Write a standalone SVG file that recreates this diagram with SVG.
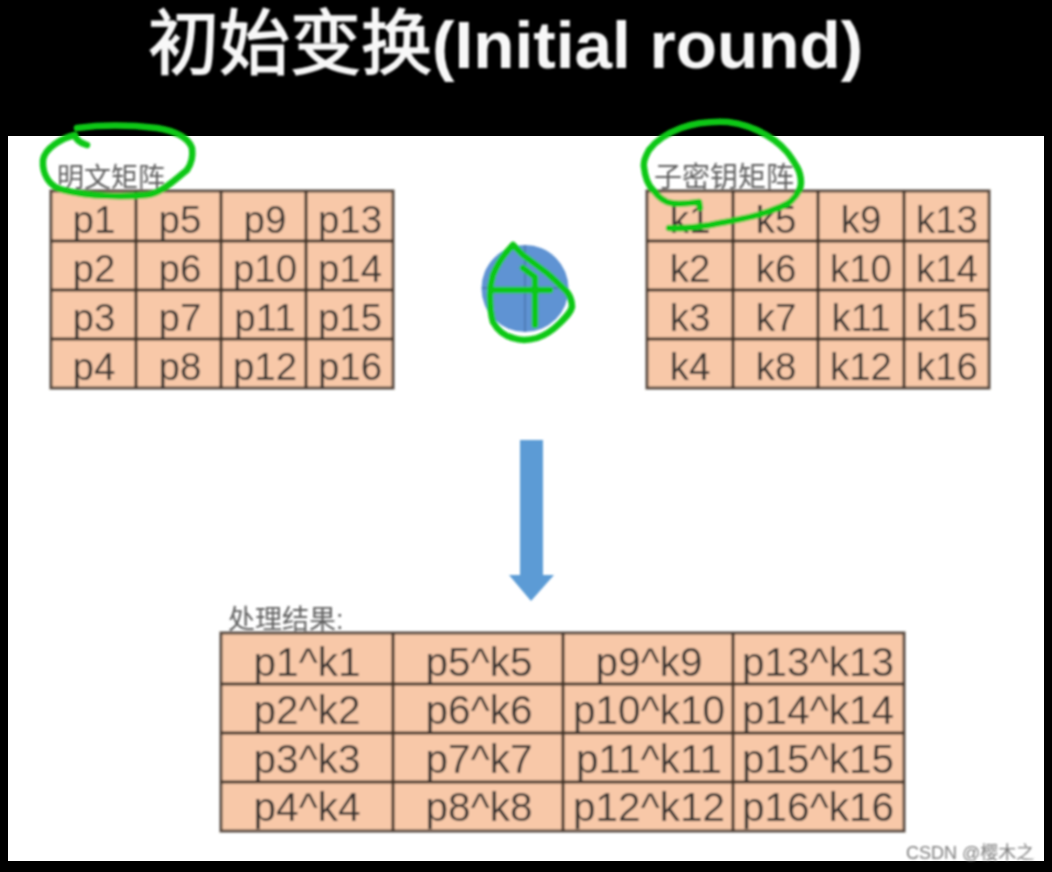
<svg xmlns="http://www.w3.org/2000/svg" width="1052" height="872" viewBox="0 0 1052 872">
<defs>
<style>
.t{font-family:"Liberation Sans",Arial,"Noto Sans CJK SC",sans-serif;}
.cell{font-size:38.5px;fill:#3a3531;text-anchor:middle;}
.res{font-size:40.5px;fill:#3a3531;text-anchor:middle;}
.lab{fill:#5e5e5e;}
.grid{fill:#f8c8a8;stroke:#5a4c42;stroke-width:3;}
.line{stroke:#43342a;stroke-width:3;fill:none;}
.g{fill:none;stroke:#0fc814;stroke-width:6.5;stroke-linecap:round;stroke-linejoin:round;}
</style>
<filter id="soft" x="-2%" y="-2%" width="104%" height="104%"><feGaussianBlur stdDeviation="0.8"/></filter>
</defs>
<rect width="1052" height="872" fill="#000"/>
<rect x="8" y="136" width="1036" height="725" fill="#fff"/>
<g filter="url(#soft)">
<g id="title"><text x="148" y="68" font-size="71" font-weight="400" fill="#f8f8f8" stroke="#f8f8f8" stroke-width="1.5" font-family="'Noto Sans CJK SC',sans-serif">初始变换<tspan font-family="'Liberation Sans',Arial,sans-serif" font-size="67.5" font-weight="700" stroke="none">(Initial round)</tspan></text></g>

<g id="plain-matrix">
<text class="t lab" x="57" y="187" font-size="27">明文矩阵</text>
<rect class="grid" x="51" y="191" width="342" height="197"/>
<path class="line" d="M136 191V388M221 191V388M306 191V388M51 241H393M51 290H393M51 339H393"/>
<g class="t cell">
<text x="94" y="233">p1</text><text x="180" y="233">p5</text><text x="265" y="233">p9</text><text x="350" y="233">p13</text>
<text x="94" y="282">p2</text><text x="180" y="282">p6</text><text x="265" y="282">p10</text><text x="350" y="282">p14</text>
<text x="94" y="331">p3</text><text x="180" y="331">p7</text><text x="265" y="331">p11</text><text x="350" y="331">p15</text>
<text x="94" y="380">p4</text><text x="180" y="380">p8</text><text x="265" y="380">p12</text><text x="350" y="380">p16</text>
</g>
</g>

<g id="key-matrix">
<text class="t lab" x="654" y="187" font-size="28">子密钥矩阵</text>
<rect class="grid" x="647" y="191" width="342" height="197"/>
<path class="line" d="M733 191V388M818 191V388M904 191V388M647 241H989M647 290H989M647 339H989"/>
<g class="t cell">
<text x="690" y="233">k1</text><text x="776" y="233">k5</text><text x="861" y="233">k9</text><text x="947" y="233">k13</text>
<text x="690" y="282">k2</text><text x="776" y="282">k6</text><text x="861" y="282">k10</text><text x="947" y="282">k14</text>
<text x="690" y="331">k3</text><text x="776" y="331">k7</text><text x="861" y="331">k11</text><text x="947" y="331">k15</text>
<text x="690" y="380">k4</text><text x="776" y="380">k8</text><text x="861" y="380">k12</text><text x="947" y="380">k16</text>
</g>
</g>

<g id="xor">
<circle cx="525" cy="288.5" r="43.5" fill="#5f93d3"/>
<path d="M482 288H568M525 245V332" stroke="#4a76ad" stroke-width="1.5" fill="none"/>
</g>

<g id="connectors">
<path d="M520 440H543V575H554L531 601L509 575H520Z" fill="#5b9bd5"/>
</g>

<g id="result-matrix">
<text class="t lab" x="228" y="629" font-size="27">处理结果:</text>
<rect class="grid" x="221" y="633" width="683" height="198"/>
<path class="line" d="M393 633V831M563 633V831M733 633V831M221 684H904M221 733H904M221 782H904"/>
<g class="t res">
<text x="307" y="676">p1^k1</text><text x="479" y="676">p5^k5</text><text x="649" y="676">p9^k9</text><text x="818" y="676">p13^k13</text>
<text x="307" y="724">p2^k2</text><text x="479" y="724">p6^k6</text><text x="649" y="724">p10^k10</text><text x="818" y="724">p14^k14</text>
<text x="307" y="773">p3^k3</text><text x="479" y="773">p7^k7</text><text x="649" y="773">p11^k11</text><text x="818" y="773">p15^k15</text>
<text x="307" y="821">p4^k4</text><text x="479" y="821">p8^k8</text><text x="649" y="821">p12^k12</text><text x="818" y="821">p16^k16</text>
</g>
</g>

<g id="annotations">
<path class="g" d="M87 145C80 143 76 140 75 135C62 138 45 148 43 160C42 175 50 187 63 190C90 197 125 197 147 195C160 194 175 180 187 170C192 163 193 155 192 148C188 137 175 131 157 128C130 125 100 125 77 128"/>
<path class="g" d="M669 228C685 229 695 227 710 225C730 221 750 218 764 213C778 208 788 205 792 200C798 194 801 188 801 183C801 176 800 172 797 167C790 155 785 148 774 140C760 130 745 124 728 122C708 121 695 123 681 128C665 134 655 142 649 150C645 157 643 162 644 167C645 177 648 185 653 190C659 198 665 202 671 203C680 205 690 203 699 202L700 208"/>
<path class="g" d="M513 245C504 254 497 265 493 275C491 282 490 288 490 295C490 306 491 315 493 322C498 331 505 336 513 338C521 341 530 340 537 338C546 335 554 329 560 323C566 317 571 312 572 307C572 301 570 296 567 292C561 286 554 279 547 273C539 267 531 261 523 255L513 245"/>
<path class="g" d="M492 290H550M523 268L535 277V325"/>
</g>

<g id="watermark"><text x="906" y="859" font-size="18" fill="#7d7d7d" font-family="'Liberation Sans','Noto Sans CJK SC',sans-serif">CSDN @樱木之</text></g>
</g>
</svg>
